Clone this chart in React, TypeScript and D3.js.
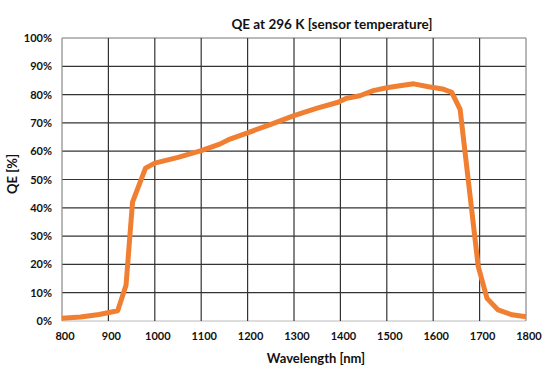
import React, { useRef, useEffect } from 'react';
import * as d3 from 'd3';

// QE curve (wavelength nm, QE %)
const wavelengths = [800, 840, 880, 920, 938, 952, 980, 1000, 1050, 1100, 1140, 1162, 1200, 1250, 1300, 1350, 1395, 1413, 1442, 1471, 1500, 1528, 1558, 1590, 1620, 1640, 1658, 1697, 1716, 1740, 1770, 1800];
const qeValues = [1.0, 1.4, 2.3, 3.6, 12.6, 42, 54, 55.8, 57.8, 60.2, 62.5, 64.3, 66.5, 69.5, 72.6, 75.2, 77.3, 78.7, 79.6, 81.4, 82.4, 83.1, 83.8, 82.8, 82.0, 80.8, 74.8, 19.3, 8.0, 3.9, 2.2, 1.5];

const xTicks = [800, 900, 1000, 1100, 1200, 1300, 1400, 1500, 1600, 1700, 1800];
const yTicks = [0, 10, 20, 30, 40, 50, 60, 70, 80, 90, 100];

const title = 'QE at 296 K [sensor temperature]';
const xTitle = 'Wavelength [nm]';
const yTitle = 'QE [%]';

const W = 554;
const H = 369;
const margin = { top: 38, right: 28, bottom: 48, left: 62 };
const font = 'Lato, "Open Sans", sans-serif';

export default function App() {
  const svgRef = useRef<SVGSVGElement | null>(null);

  useEffect(() => {
    const svgEl = d3.select(svgRef.current);
    svgEl.selectAll('*').remove();

    const width = W - margin.left - margin.right;
    const height = H - margin.top - margin.bottom;

    const x = d3.scaleLinear().domain([800, 1800]).range([0, width]);
    const y = d3.scaleLinear().domain([0, 100]).range([height, 0]);

    svgEl.append('rect').attr('width', W).attr('height', H).attr('fill', '#fff');

    const svg = svgEl.append('g').attr('transform', `translate(${margin.left},${margin.top})`);

    // grid
    svg
      .selectAll('.hgrid')
      .data(yTicks)
      .enter()
      .append('line')
      .attr('x1', 0)
      .attr('x2', width)
      .attr('y1', (d) => y(d))
      .attr('y2', (d) => y(d))
      .attr('stroke', (d) => (d === 0 ? '#bbb' : d === 100 ? '#777' : '#333'))
      .attr('stroke-width', 1.2);

    svg
      .selectAll('.vgrid')
      .data(xTicks)
      .enter()
      .append('line')
      .attr('x1', (d) => x(d))
      .attr('x2', (d) => x(d))
      .attr('y1', 0)
      .attr('y2', height)
      .attr('stroke', (d) => (d === 800 || d === 1800 ? '#888' : '#333'))
      .attr('stroke-width', 1.2);

    // y tick labels
    svg
      .selectAll('.ylab')
      .data(yTicks)
      .enter()
      .append('text')
      .attr('x', -10)
      .attr('y', (d) => y(d) + 4)
      .attr('text-anchor', 'end')
      .attr('font-family', font)
      .attr('font-weight', 'bold')
      .attr('font-size', 11)
      .attr('fill', '#111')
      .text((d) => `${d}%`);

    // x tick labels
    svg
      .selectAll('.xlab')
      .data(xTicks)
      .enter()
      .append('text')
      .attr('x', (d) => x(d) + 3)
      .attr('y', height + 19)
      .attr('text-anchor', 'middle')
      .attr('font-family', font)
      .attr('font-weight', 'bold')
      .attr('font-size', 11)
      .attr('fill', '#111')
      .text((d) => d);

    // curve
    const pts = wavelengths.map((w, i) => [w, qeValues[i]] as [number, number]);
    const line = d3
      .line<[number, number]>()
      .x((d) => x(d[0]))
      .y((d) => y(d[1]));

    svg
      .append('path')
      .datum(pts)
      .attr('fill', 'none')
      .attr('stroke', '#F07F31')
      .attr('stroke-width', 5)
      .attr('stroke-linejoin', 'round')
      .attr('d', line);

    // titles
    svgEl
      .append('text')
      .attr('x', 332)
      .attr('y', 29)
      .attr('text-anchor', 'middle')
      .attr('font-family', font)
      .attr('font-weight', 'bold')
      .attr('font-size', 13.5)
      .attr('fill', '#111')
      .text(title);

    svgEl
      .append('text')
      .attr('x', 316)
      .attr('y', 363)
      .attr('text-anchor', 'middle')
      .attr('font-family', font)
      .attr('font-weight', 'bold')
      .attr('font-size', 13)
      .attr('fill', '#111')
      .text(xTitle);

    svgEl
      .append('text')
      .attr('transform', 'translate(12,174) rotate(-90)')
      .attr('text-anchor', 'middle')
      .attr('dy', '0.35em')
      .attr('font-family', font)
      .attr('font-weight', 'bold')
      .attr('font-size', 13)
      .attr('fill', '#111')
      .text(yTitle);
  }, []);

  return (
    <svg
      ref={svgRef}
      width={W}
      height={H}
      style={{ position: 'absolute', left: 0, top: 0, display: 'block' }}
    />
  );
}
